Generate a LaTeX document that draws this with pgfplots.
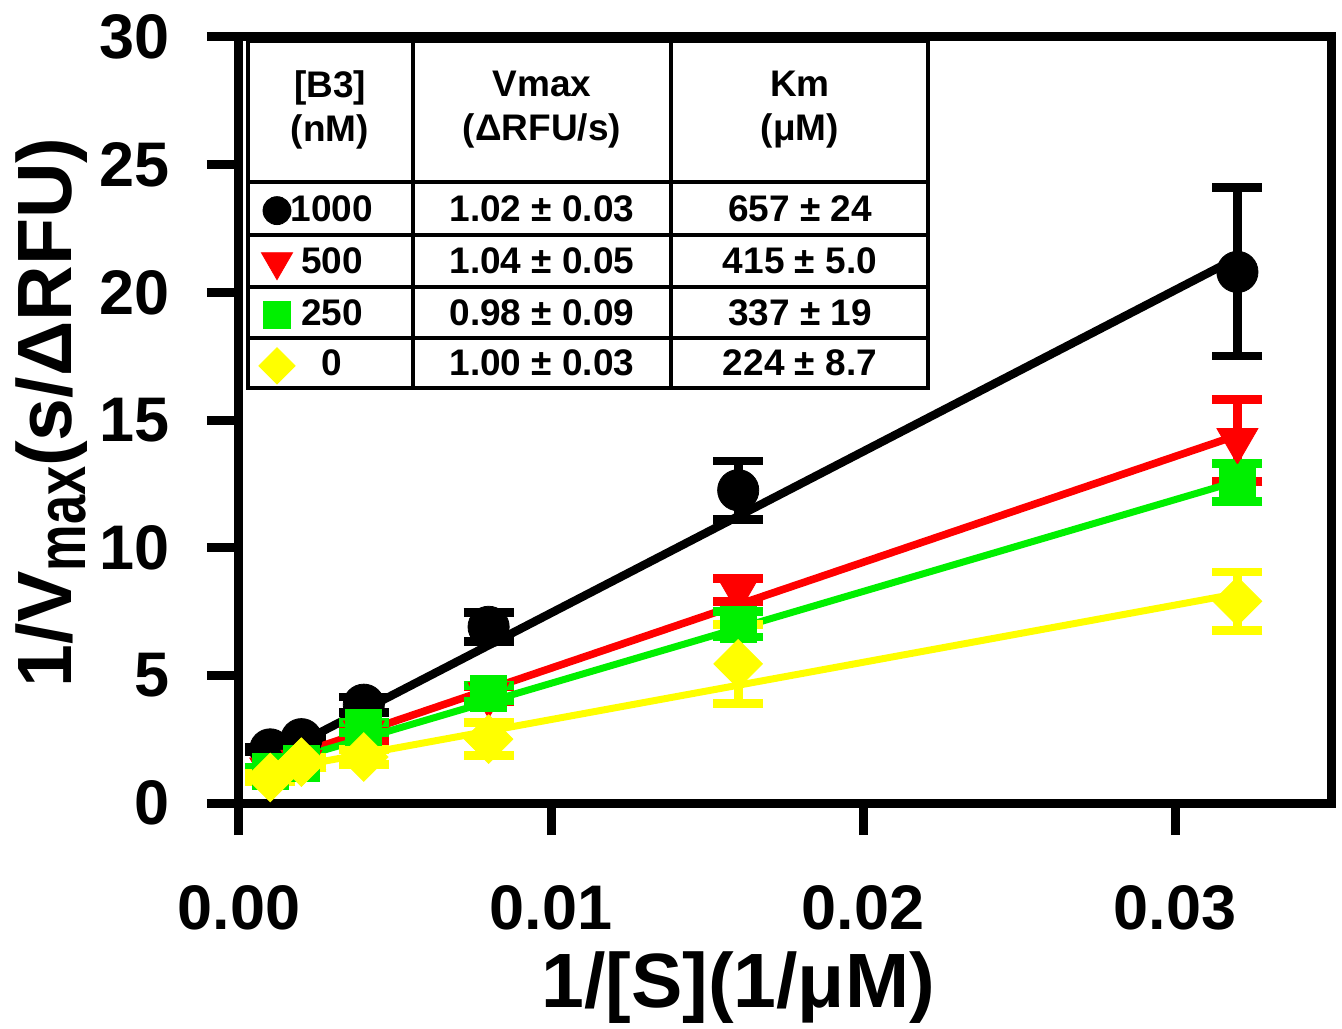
\documentclass[border=0pt]{standalone}
\usepackage{pgfplots}
\pgfplotsset{compat=1.18}
\usepackage{fontspec}
\setmainfont{Liberation Sans}
\usepackage{graphicx}

\definecolor{lbred}{RGB}{255,0,0}
\definecolor{lbgreen}{RGB}{0,240,0}
\definecolor{lbyellow}{RGB}{255,255,0}

\newcommand{\tickfont}{\fontsize{31.5}{36}\selectfont\bfseries}
\newcommand{\labfont}{\fontsize{38.5}{44}\selectfont\bfseries}
\newcommand{\tabfont}{\fontsize{18.5}{22}\selectfont\bfseries}

% points with error bars, #1 = colour
\pgfplotsset{
  pts/.style={color=#1, only marks,
    error bars/.cd, y dir=both, y explicit,
    error mark=|,
    error bar style={line width=4.5pt, #1},
    error mark options={#1, line width=4.3pt, mark size=12.5pt},
    /pgfplots/.cd},
  fit/.style={no marks, line width=3.8pt, #1},
  key/.style={color=#1, only marks, forget plot},
}

\begin{document}
\begin{tikzpicture}
\begin{axis}[
  scale only axis, width=546pt, height=383pt,
  xmin=0, xmax=0.035, ymin=0, ymax=30,
  clip=false, scaled x ticks=false,
  axis line style={line width=4.5pt},
  tick pos=left, tick align=outside, major tick length=16pt,
  tick style={line width=4.5pt, black},
  xtick={0,0.01,0.02,0.03}, xticklabels={0.00,0.01,0.02,0.03},
  ytick={0,5,10,15,20,25,30}, yticklabels={0,5,10,15,20,25,30},
  /pgf/number format/assume math mode=true,
  ticklabel style={font=\tickfont},
  xticklabel style={anchor=north, inner sep=0pt, yshift=-25pt},
  yticklabel style={anchor=east, inner sep=0pt, xshift=-18.5pt},
]

% [B3] = 1000 nM
\addplot[pts=black, mark=*, mark size=10.3pt, mark options={fill=black}]
  coordinates {
  (0.001,2.1) +- (0,0.1)
  (0.002,2.5) +- (0,0.1)
  (0.004,3.85) +- (0,0.3)
  (0.008,6.9) +- (0,0.57)
  (0.016,12.25) +- (0,1.15)
  (0.032,20.8) +- (0,3.3)
  };
\addplot[fit=black, line width=4.2pt] coordinates {(0.001,1.75) (0.032,21.35)};

% 500 nM
\addplot[pts=lbred, mark=triangle*, mark size=11.8pt, mark options={fill=lbred, rotate=180}]
  coordinates {
  (0.001,1.3) +- (0,0.1)
  (0.002,1.6) +- (0,0.15)
  (0.004,2.75) +- (0,0.3)
  (0.008,4.25) +- (0,0.3)
  (0.016,8.35) +- (0,0.45)
  (0.032,14.2) +- (0,1.6)
  };
\addplot[fit=lbred] coordinates {(0.001,1.55) (0.032,14.4)};

% 250 nM
\addplot[pts=lbgreen, mark=square*, mark size=9pt, mark options={fill=lbgreen}]
  coordinates {
  (0.001,1.25) +- (0,0.15)
  (0.002,1.55) +- (0,0.15)
  (0.004,2.95) +- (0,0.2)
  (0.008,4.3) +- (0,0.3)
  (0.016,7.0) +- (0,0.5)
  (0.032,12.55) +- (0,0.75)
  };
\addplot[fit=lbgreen, line width=3.5pt] coordinates {(0.001,1.45) (0.032,12.6)};

% 0 nM
\addplot[pts=lbyellow, mark=square*, mark size=8.6pt, mark options={fill=lbyellow, rotate=45}]
  coordinates {
  (0.001,1.0) +- (0,0.15)
  (0.002,1.6) +- (0,0.2)
  (0.004,1.8) +- (0,0.3)
  (0.008,2.5) +- (0,0.65)
  (0.016,5.45) +- (0,1.55)
  (0.032,7.9) +- (0,1.15)
  };
\addplot[fit=lbyellow, line width=3.5pt] coordinates {(0.001,1.25) (0.032,8.2)};

% table
\draw[line width=2pt] (axis cs:0.000288,29.84) rectangle (axis cs:0.022083,16.25);
\draw[line width=2pt] (axis cs:0.005577,29.84) -- (axis cs:0.005577,16.25);
\draw[line width=2pt] (axis cs:0.013846,29.84) -- (axis cs:0.013846,16.25);
\draw[line width=2.4pt] (axis cs:0.000288,24.32) -- (axis cs:0.022083,24.32);
\draw[line width=2pt] (axis cs:0.000288,22.25) -- (axis cs:0.022083,22.25);
\draw[line width=2pt] (axis cs:0.000288,20.21) -- (axis cs:0.022083,20.21);
\draw[line width=2pt] (axis cs:0.000288,18.21) -- (axis cs:0.022083,18.21);

\node[font=\tabfont, align=center] at (axis cs:0.002917,27.14) {[B3]\\(nM)};
\node[font=\tabfont, align=center] at (axis cs:0.009712,27.14) {Vmax\\(ΔRFU/s)};
\node[font=\tabfont, align=center] at (axis cs:0.01798,27.14) {Km\\(μM)};

\addplot[key=black, mark=*, mark size=7pt, mark options={fill=black}]
  coordinates {(0.001218,23.2)};
\addplot[key=lbred, mark=triangle*, mark size=9pt, mark options={fill=lbred, rotate=180}]
  coordinates {(0.001218,21.2)};
\addplot[key=lbgreen, mark=square*, mark size=6.75pt, mark options={fill=lbgreen}]
  coordinates {(0.001218,19.12)};
\addplot[key=lbyellow, mark=square*, mark size=6.4pt, mark options={fill=lbyellow, rotate=45}]
  coordinates {(0.001218,17.12)};

\node[font=\tabfont] at (axis cs:0.00298,23.28) {1000};
\node[font=\tabfont] at (axis cs:0.00298,21.23) {500};
\node[font=\tabfont] at (axis cs:0.00298,19.21) {250};
\node[font=\tabfont] at (axis cs:0.00298,17.23) {0};

\node[font=\tabfont] at (axis cs:0.009712,23.28) {1.02 ± 0.03};
\node[font=\tabfont] at (axis cs:0.009712,21.23) {1.04 ± 0.05};
\node[font=\tabfont] at (axis cs:0.009712,19.21) {0.98 ± 0.09};
\node[font=\tabfont] at (axis cs:0.009712,17.23) {1.00 ± 0.03};

\node[font=\tabfont] at (axis cs:0.01798,23.28) {657 ± 24};
\node[font=\tabfont] at (axis cs:0.01798,21.23) {415 ± 5.0};
\node[font=\tabfont] at (axis cs:0.01798,19.21) {337 ± 19};
\node[font=\tabfont] at (axis cs:0.01798,17.23) {224 ± 8.7};

% axis labels
\node[font=\labfont, anchor=base] at (rel axis cs:0.457,-0.2676) {1/[S](1/μM)};
\node[font=\labfont, anchor=base, rotate=90] at (rel axis cs:-0.153,0.51)
  {1/V\raisebox{-7pt}{\scalebox{0.68}[0.9]{max}}(s/ΔRFU)};

\coordinate (bl) at (rel axis cs:0,0);
\end{axis}
\pgfresetboundingbox
\path (bl) ++(-119.5pt,-112.5pt) rectangle ++(671pt,514pt);
\end{tikzpicture}
\end{document}
